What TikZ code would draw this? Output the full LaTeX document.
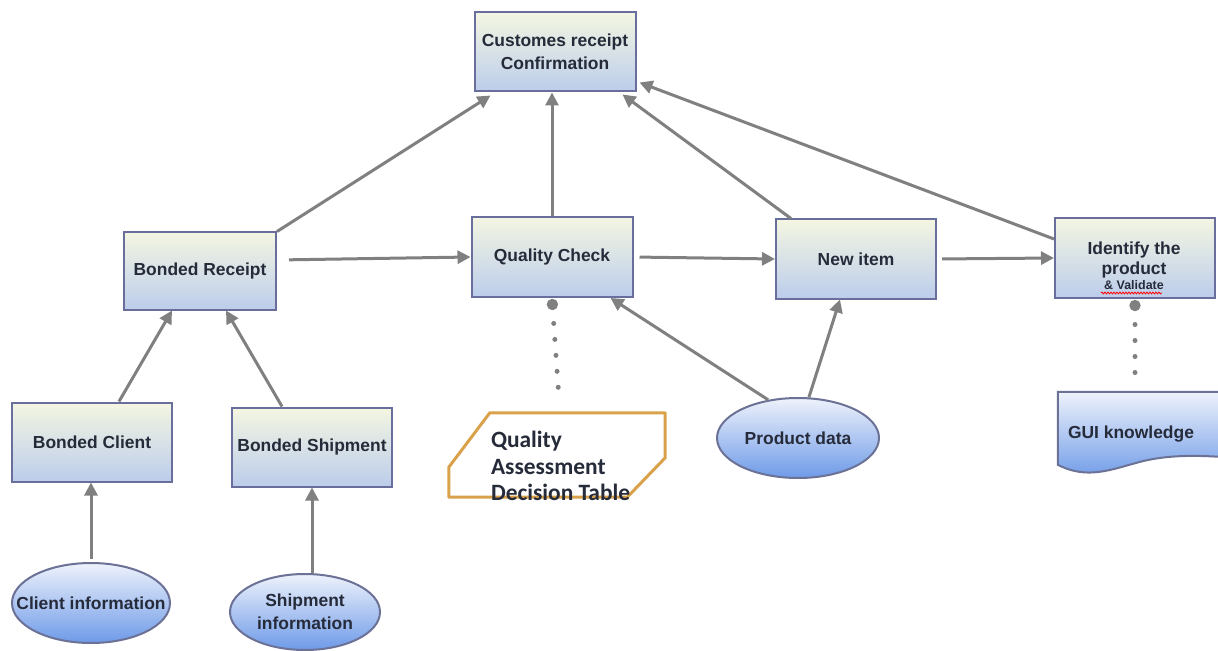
\documentclass[tikz,border=0pt]{standalone}
\usepackage{fontspec}
\newfontfamily\labfont{Liberation Sans}
\newfontfamily\calfont{Carlito}
\usetikzlibrary{arrows.meta,shapes.geometric,calc,decorations.pathmorphing}
\definecolor{boxtop}{HTML}{F4F6E2}
\definecolor{boxmid}{HTML}{E4EAF2}
\definecolor{boxbot}{HTML}{BCCDEB}
\definecolor{boxdraw}{HTML}{6A6E9C}
\definecolor{elltop}{HTML}{EEF2FB}
\definecolor{ellmid}{HTML}{C6D6F4}
\definecolor{ellbot}{HTML}{6E9AE8}
\definecolor{elldraw}{HTML}{6C7196}
\definecolor{arrowc}{HTML}{808080}
\definecolor{orangec}{HTML}{D9A24A}
\definecolor{txt}{HTML}{262B3A}
\begin{document}
\begin{tikzpicture}[x=1bp,y=-1bp,
  lbl/.style={inner sep=0, align=center, text=txt, font=\labfont\bfseries\fontsize{17.5}{23}\selectfont},
  box/.style={lbl, draw=boxdraw, line width=2bp, top color=boxtop, middle color=boxmid, bottom color=boxbot,
    minimum width=160bp, minimum height=79bp},
  ell/.style={ellipse, inner sep=0, draw=elldraw, line width=2bp, top color=elltop, middle color=ellmid, bottom color=ellbot},
  arr/.style={draw=arrowc, line width=3bp, -{Triangle[length=13bp,width=13bp]}},
  dotc/.style={draw=arrowc, line width=5bp, line cap=round, dash pattern=on 0bp off 16bp, {Circle[length=11bp]}-}
]
\useasboundingbox (0,0) rectangle (1218,651);
\fill[white] (0,0) rectangle (1218,651);

% boxes
\node[box, minimum width=161bp] (cust) at (555,52) {Customes receipt\\Confirmation};
\node[box, minimum width=152bp, minimum height=77bp] (br) at (200,271) {Bonded Receipt};
\node[box, minimum width=161bp, minimum height=80bp] (qc) at (552,257) {Quality Check};
\node[box] (ni) at (856,259) {New item};
\node[box, minimum height=80bp] (id) at (1135,258) {};
\node[lbl, font=\labfont\bfseries\fontsize{17.5}{20}\selectfont] (idt) at (1134,266) {Identify the\\product\\[-5bp]{\fontsize{12.5}{14}\selectfont\& Validate}};
\node[box] (bc) at (92,442) {Bonded Client};
\node[box] (bs) at (312,447) {Bonded Shipment};

% ellipses
\node[ell, minimum width=158bp, minimum height=80bp] (ci) at (91,603) {};
\node[lbl] (cit) at (ci.center) {Client information};
\node[ell, minimum width=150bp, minimum height=76bp] (si) at (305,612) {};
\node[lbl] (sit) at (si.center) {Shipment\\information};
\node[ell, minimum width=162bp, minimum height=80bp] (pd) at (798,438) {};
\node[lbl] (pdt) at (pd.center) {Product data};

% decision table
\node[minimum width=216bp, minimum height=84bp, inner sep=0] (qadt) at (557,455) {};
\draw[orangec, line width=3bp, line join=round, fill=white]
  ($(qadt.north west)+(41,0)$) -- (qadt.north east) -- ($(qadt.north east)+(0,45)$)
  -- ($(qadt.south east)+(-38,0)$) -- (qadt.south west) -- ($(qadt.south west)+(0,-30)$) -- cycle;
\node[anchor=west, align=left, inner sep=0, text=txt, font=\calfont\bfseries\fontsize{23.5}{26.5}\selectfont]
  (qadtt) at ([xshift=42bp,yshift=-11bp]qadt.west) {Quality\\Assessment\\Decision Table};

% GUI knowledge document shape
\node[minimum width=164bp, minimum height=78bp, inner sep=0] (gui) at (1140,431) {};
\draw[elldraw, line width=2bp, top color=elltop, middle color=ellmid, bottom color=ellbot]
  (gui.north west) -- ($(gui.north east)+(10,0)$) -- ($(gui.north east)+(10,66)$)
  .. controls ($(gui.north east)+(-25,63)$) and ($(gui.north east)+(-55,63)$) .. ($(gui.north east)+(-82,70)$)
  .. controls ($(gui.north east)+(-112,78)$) and ($(gui.north east)+(-135,88)$) .. ($(gui.north west)+(0,73)$)
  -- cycle;
\node[lbl] (guit) at (1131,434) {GUI knowledge};

% red spell-check underline
\draw[red, line width=0.8bp, decorate, decoration={snake, amplitude=0.9bp, segment length=3bp}]
  ([xshift=-34bp,yshift=6bp]id.south) -- ([xshift=27bp,yshift=6bp]id.south);

% connectors
\draw[arr] (br.north east) -- ([xshift=17bp,yshift=-3bp]cust.south west);
\draw[arr] (qc.north) -- (qc.north |- cust.south);
\draw[arr] ([xshift=16bp]ni.north west) -- ([xshift=-14bp,yshift=-2bp]cust.south east);
\draw[arr] ([yshift=-22bp]id.north west) -- ([xshift=3bp,yshift=10bp]cust.south east);
\draw[arr, shorten <=12bp] ([yshift=11bp]br.east) -- (qc.west);
\draw[arr, shorten <=6bp] (qc.east) -- (ni.west);
\draw[arr, shorten <=5bp] (ni.east) -- (id.west);
\draw[arr] ([xshift=108bp]bc.north west) -- ([xshift=49bp]br.south west);
\draw[arr] ([xshift=51bp]bs.north west) -- ([xshift=103bp]br.south west);
\draw[arr, shorten <=3bp] (ci.north) -- (ci.north |- bc.south);
\draw[arr] (bs.south |- si.north) -- (bs.south);
\draw[arr] (pd.128) -- ([xshift=-23bp]qc.south east);
\draw[arr] (pd.75) -- ([xshift=-16bp]ni.south);
\draw[dotc, shorten >=17bp] ([yshift=-1bp]qc.south) -- ([xshift=3bp]qadt.north);
\draw[dotc, shorten >=4bp] ([yshift=-1bp]id.south) -- (id.south |- gui.north);
\end{tikzpicture}
\end{document}
